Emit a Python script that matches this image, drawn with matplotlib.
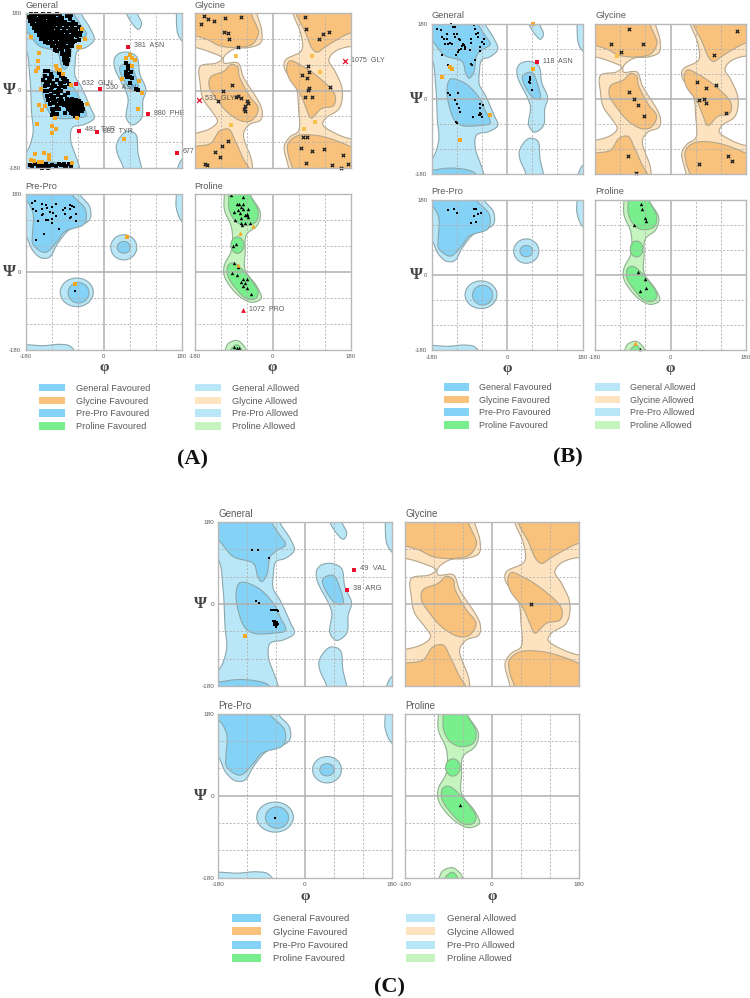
import numpy as np
import matplotlib
matplotlib.use("Agg")
import matplotlib.pyplot as plt
from matplotlib.patches import Polygon, Patch

plt.rcParams["axes.unicode_minus"] = False

W, H = 750, 998
SANS = "Liberation Sans"
SERIF = "Liberation Serif"

# ---------- region outlines in (phi, psi) degrees ----------
GEN_ALLOWED_MAIN = [(-200,200),(-52,200),(-52,180),(-31,144),(-22,118),(-41,100),(-60,93),(-66,60),(-66,34),(-52,9),(-31,-39),(-22,-64),(-45,-79),(-72,-86),(-76,-115),(-62,-159),(-55,-182),(-54,-200),(-200,-200),(-200,-150),(-180,-145),(-163,-101),(-166,-50),(-170,31),(-180,97),(-200,110)]
GEN_ALLOWED_LH = [(56,89),(76,78),(83,38),(97,2),(90,-24),(87,-64),(66,-80),(52,-64),(56,-20),(49,2),(25,53),(25,75),(35,86)]
GEN_ALLOWED_TOP = [(50,200),(52,180),(66,155),(80,142),(87,155),(77,180),(78,200)]
GEN_ALLOWED_BOT = [(30,-123),(52,-95),(73,-101),(79,-145),(87,-180),(90,-200),(44,-200),(45,-180),(31,-145)]
GEN_ALLOWED_R1 = [(167,200),(167,180),(170,133),(180,115),(200,100),(200,200)]
GEN_ALLOWED_R2 = [(168,-200),(170,-180),(180,-160),(200,-150),(200,-200)]
GEN_FAV_TOP = [(-200,200),(-69,200),(-69,180),(-52,151),(-40,130),(-57,118),(-72,104),(-79,64),(-90,49),(-98,60),(-107,89),(-149,104),(-180,140),(-200,150)]
GEN_FAV_MID = [(-135,47),(-100,37),(-66,2),(-52,-28),(-40,-58),(-66,-64),(-107,-64),(-124,-53),(-138,-17),(-143,23)]
GEN_FAV_BOT = [(-200,-200),(-200,-175),(-170,-170),(-142,-166),(-100,-169),(-76,-178),(-66,-200)]
GEN_FAV_LH = [(38,56),(59,63),(73,34),(79,0),(63,2),(38,42)]

GLY_WHITE_LEFT = [(-200,100),(-180,100),(-143,89),(-116,75),(-129,64),(-167,56),(-167,16),(-160,-20),(-139,-50),(-127,-72),(-143,-88),(-177,-99),(-200,-101)]
GLY_WHITE_MID = [(-36,200),(-36,180),(-25,140),(-27,111),(-53,100),(-87,97),(-112,78),(-112,64),(-80,64),(-67,31),(-25,-42),(-27,-68),(-53,-79),(-67,-101),(-49,-159),(-46,-180),(-46,-200),(37,-200),(37,-180),(27,-130),(40,-108),(60,-94),(60,-42),(54,9),(27,53),(30,71),(67,93),(65,133),(47,180),(47,200)]
GLY_WHITE_RIGHT = [(200,97),(148,93),(130,71),(144,45),(161,2),(154,-42),(123,-64),(116,-79),(148,-101),(180,-112),(200,-112)]
GLY_FAV_TL = [(-200,200),(-49,200),(-49,180),(-36,148),(-32,133),(-46,108),(-80,100),(-122,104),(-150,118),(-180,127),(-200,127)]
GLY_FAV_TR = [(54,200),(200,200),(200,130),(180,133),(144,115),(120,100),(103,89),(92,97),(75,137),(54,180)]
GLY_FAV_ML = [(-94,61),(-80,53),(-77,34),(-53,-13),(-33,-42),(-46,-68),(-67,-72),(-101,-53),(-129,-20),(-146,9),(-143,31),(-112,45)]
GLY_FAV_MR = [(40,69),(65,59),(106,31),(144,-10),(141,-35),(113,-42),(89,-64),(78,-42),(65,-10),(37,31),(33,56)]
GLY_FAV_BL = [(-200,-135),(-180,-130),(-143,-123),(-122,-94),(-101,-90),(-87,-115),(-67,-159),(-54,-182),(-52,-200),(-200,-200)]
GLY_FAV_BR = [(36,-123),(58,-105),(106,-105),(154,-119),(180,-130),(200,-135),(200,-200),(47,-200),(46,-180),(37,-152)]

PP_ALLOWED_MAIN = [(-200,200),(-55,200),(-55,180),(-32,150),(-33,120),(-80,97),(-107,64),(-125,34),(-145,33),(-165,52),(-180,85),(-200,100)]
PP_FAV_MAIN = [(-200,200),(-73,200),(-73,180),(-42,144),(-45,111),(-90,93),(-107,71),(-135,45),(-163,64),(-164,86),(-163,137),(-180,166),(-200,170)]
PP_ALLOWED_BOT = [(-200,-200),(-200,-170),(-180,-168),(-140,-170),(-100,-167),(-76,-172),(-62,-200)]
PP_ALLOWED_R1 = [(167,200),(167,180),(167,147),(180,116),(200,105),(200,200)]
PP_ELLIPSES_ALLOWED = [(46,57,30,29),(-62,-47,38,33)]
PP_ELLIPSES_FAV = [(46,57,15,13.5),(-58,-48,24,23.5)]

PRO_ALLOWED_MAIN = [(-111,200),(-111,180),(-111,144),(-94,100),(-95,49),(-111,16),(-111,-10),(-80,-53),(-49,-70),(-26,-61),(-35,-35),(-63,5),(-63,45),(-60,86),(-35,108),(-28,137),(-52,180),(-52,200)]
PRO_FAV_TOP = [(-101,200),(-101,180),(-100,144),(-87,119),(-66,108),(-39,115),(-33,140),(-52,180),(-52,200)]
PRO_FAV_LOW = [(-102,16),(-91,21),(-73,9),(-33,-46),(-39,-61),(-59,-62),(-87,-35),(-104,-6)]
PRO_ALLOWED_BOT = [(-111,-200),(-109,-180),(-102,-165),(-82,-158),(-67,-169),(-61,-180),(-59,-200)]
PRO_FAV_BOT = [(-99,-200),(-97,-180),(-82,-168),(-71,-180),(-69,-200)]
PRO_ELLIPSE_FAV = (-81, 62, 15, 19)

# ---------- observations, panel A ----------
A_GEN_BLACK = [
(-168,177),(-161,175),(-155,178),(-147,176),(-140,178),(-133,175),(-126,177),(-117,176),(-108,178),(-100,175),
(-171,170),(-165,168),(-158,171),(-151,167),(-144,170),(-137,168),(-130,171),(-122,168),(-114,170),(-105,167),(-97,169),(-84,172),(-76,176),
(-169,162),(-162,160),(-156,164),(-149,160),(-141,163),(-135,160),(-127,164),(-120,160),(-112,163),(-103,160),(-95,162),(-88,160),(-78,165),(-70,160),
(-165,154),(-159,151),(-152,155),(-145,152),(-139,156),(-132,152),(-125,155),(-118,151),(-110,155),(-102,152),(-94,155),(-86,151),(-80,154),(-72,152),(-64,155),
(-160,145),(-153,147),(-147,143),(-140,147),(-134,144),(-128,147),(-121,143),(-115,147),(-108,144),(-100,147),(-92,144),(-85,147),(-78,143),(-72,146),(-63,144),(-56,147),
(-155,138),(-149,135),(-143,139),(-137,136),(-131,139),(-125,135),(-119,139),(-113,136),(-106,139),(-99,135),(-92,138),(-85,135),(-78,138),(-71,135),(-64,137),(-57,134),(-52,138),
(-150,128),(-144,130),(-138,127),(-132,130),(-126,127),(-120,130),(-114,127),(-108,130),(-102,127),(-96,130),(-90,127),(-84,130),(-77,127),(-70,129),(-62,126),(-55,128),
(-145,120),(-139,122),(-133,119),(-127,122),(-121,119),(-115,122),(-109,119),(-103,122),(-97,119),(-91,122),(-85,119),(-80,118),(-73,120),(-66,116),(-58,118),
(-134,112),(-128,110),(-122,113),(-116,110),(-110,113),(-104,110),(-98,113),(-92,110),(-86,112),(-78,110),(-71,112),
(-118,104),(-112,102),(-106,104),(-100,102),(-94,104),(-88,100),(-82,101),(-74,103),
(-96,84),(-91,80),(-87,85),(-84,78),(-80,82),(-92,72),(-88,70),(-83,72),(-89,64),(-85,61),(-79,92),(-84,94),
(-113,95),(-108,92),(-101,96),(-96,93)]
A_GEN_BLACK_MID = [
(-135,45),(-128,46),(-122,38),(-134,34),(-126,30),(-118,32),(-104,40),(-99,34),(-94,30),(-88,27),(-84,22),(-92,20),(-80,16),
(-139,24),(-132,20),(-124,22),(-116,18),(-108,24),(-100,18),(-136,10),(-128,12),(-120,8),(-112,10),(-104,6),(-98,10),(-90,8),
(-136,0),(-130,-2),(-122,2),(-114,-4),(-106,0),(-98,-2),(-130,-12),(-122,-10),(-114,-14),(-106,-10),(-98,-14),(-90,-10),(-82,-6),
(-128,-22),(-120,-20),(-112,-24),(-104,-22),(-96,-24),(-124,-32),(-116,-30),(-108,-34),(-100,-32),(-92,-34),(-118,-42),(-110,-44),(-102,-42),
(-116,-52),(-108,-54),(-120,-58),(-112,-62),
(-84,-20),(-80,-24),(-76,-22),(-72,-20),(-68,-24),(-64,-22),(-60,-26),(-56,-24),(-52,-28),
(-86,-28),(-82,-30),(-78,-28),(-74,-30),(-70,-28),(-66,-30),(-62,-28),(-58,-32),(-54,-32),(-50,-34),
(-84,-36),(-80,-38),(-76,-36),(-72,-38),(-68,-36),(-64,-38),(-60,-36),(-56,-40),(-52,-40),(-48,-42),
(-82,-44),(-78,-46),(-74,-44),(-70,-46),(-66,-44),(-62,-46),(-58,-44),(-54,-48),(-50,-48),
(-76,-52),(-70,-54),(-64,-52),(-60,-56),(-66,-60),(-88,-52)]
A_GEN_BLACK_BOT = [(-170,-172),(-164,-175),(-158,-171),(-152,-176),(-146,-172),(-138,-176),(-132,-171),(-125,-175),(-118,-172),(-110,-176),(-104,-171),(-98,-174),(-92,-170),(-86,-175),(-80,-171),(-75,-176),(-142,-179),(-128,-179),(-90,-178)]
A_GEN_BLACK_LH = [(51,63),(56,56),(55,50),(52,44),(56,39),(60,32),(54,32),(64,29),(60,17),(74,3),(78,2),(59,58),(52,36),(62,44)]
A_GEN_ORANGE = [(-49,144),(-43,119),(-55,100),(-59,100),(-168,125),(-148,88),(-151,69),(-151,52),(-155,46),(-109,57),(-107,49),(-101,48),(-93,39),(-76,12),(-145,4),(-148,-33),(-142,-45),(-135,-35),(-153,-77),(-120,-82),(-120,-99),(-109,-90),(-38,-31),(-61,-64),(-112,-64),(-158,-147),(-138,-145),(-125,-149),(-125,-160),(-87,-157),(-168,-162),(-160,-163),(-150,-165),(-143,-166),(-72,-168),(60,83),(66,75),(72,71),(51,75),(64,56),(82,21),(43,27),(87,-6),(79,-42),(46,-112)]
A_GEN_RED = [(56,102,"381  ASN"),(-64,15,"632  GLN"),(-8,4,"530  ASN"),(101,-55,"880  PHE"),(-56,-93,"481  TYR"),(-15,-97,"882  TYR"),(168,-144,"677")]
A_GLY_BLACK = [(-159,173),(-150,167),(-136,162),(-165,154),(-109,169),(-73,171),(-112,137),(-102,133),(-101,120),(-80,100),(-93,12),(-115,-2),(-125,-25),(-80,-13),(-84,-15),(-72,-18),(-59,-24),(-56,-29),(-63,-37),(-65,-43),(-63,-47),(-103,-117),(-117,-128),(-132,-143),(-121,-155),(-155,-170),(-152,-174),(76,170),(77,142),(131,137),(117,131),(108,120),(67,36),(85,44),(82,56),(79,29),(85,5),(82,2),(132,8),(76,-15),(92,-15),(71,-109),(79,-108),(65,-133),(92,-140),(118,-137),(77,-168),(138,-172),(163,-149),(175,-171),(157,-179)]
A_GLY_ORANGE = [(-84,80),(92,81),(-96,-79),(98,-73),(73,-89),(109,42)]
A_GLY_RED = [(168,68,"1075  GLY"),(-170,-21,"531  GLY")]
A_PP_BLACK = [(-166,160),(-158,165),(-142,158),(-162,145),(-156,141),(-141,145),(-130,147),(-120,149),(-109,158),(-132,155),(-124,138),(-116,136),(-139,133),(-143,131),(-109,129),(-152,117),(-132,120),(-128,120),(-119,122),(-119,114),(-93,143),(-89,147),(-78,155),(-72,152),(-69,149),(-78,145),(-89,135),(-64,135),(-78,124),(-76,126),(-64,117),(-104,99),(-138,87),(-156,74),(-66,-44),(-69,-28)]
A_PP_ORANGE = [(54,80),(-66,-28)]
A_PRO_BLACK = [(-96,178),(-67,174),(-77,156),(-67,157),(-73,151),(-79,143),(-75,137),(-67,145),(-56,145),(-60,135),(-63,131),(-58,131),(-56,127),(-73,113),(-71,108),(-52,114),(-90,139),(-86,121),(-63,114),(-73,125),(-81,156),(-92,61),(-84,65),(-90,21),(-79,11),(-81,-7),(-67,-15),(-58,-17),(-73,-22),(-63,-25),(-69,-32),(-58,-38),(-50,-51),(-94,-3),(-88,-174),(-82,-175),(-78,-176)]
A_PRO_ORANGE = [(-75,91),(-46,106),(-79,16)]
A_PRO_RED = [(-67,-88,"1072  PRO")]

# ---------- panel B ----------
B_GEN_BLACK = [(-166,166),(-157,164),(-133,180),(-129,172),(-143,156),(-151,142),(-155,148),(-143,144),(-136,134),(-131,132),(-140,130),(-147,132),(-123,172),(-119,156),(-115,144),(-123,148),(-127,156),(-111,140),(-107,127),(-103,128),(-110,120),(-115,116),(-117,112),(-121,104),(-155,104),(-101,120),(-87,144),(-86,134),(-89,116),(-78,176),(-76,168),(-70,158),(-68,148),(-73,154),(-64,124),(-60,136),(-56,142),(-54,132),(-64,115),(-76,92),(-85,82),(-83,80),(-105,130),(-100,124),(-140,81),(-140,14),(-136,9),(-125,-3),(-119,-13),(-115,-21),(-117,14),(-113,-31),(-65,-13),(-57,-15),(-65,-23),(-64,-33),(-64,-39),(-60,-43),(-67,-39),(-61,-37),(-80,-43),(-121,-56),(-119,-57),(55,51),(56,44),(53,41),(56,38),(60,22),(54,47)]
B_GEN_ORANGE = [(-136,75),(-130,70),(-155,53),(-40,-40),(-113,-99),(63,178),(63,70)]
B_GEN_RED = [(72,87,"118  ASN")]
B_GLY_BLACK = [(-99,168),(-143,131),(-65,132),(-117,111),(-100,17),(-86,-1),(-78,-16),(-62,-41),(-101,-136),(-82,-177),(159,162),(104,104),(62,41),(84,26),(109,33),(67,-4),(81,0),(85,-9),(132,-33),(138,-136),(147,-150),(67,-157)]
B_GLY_ORANGE = [(-128,102)]
B_PP_BLACK = [(-141,154),(-127,158),(-119,147),(-78,157),(-74,157),(-79,140),(-68,145),(-62,148),(-86,125),(-75,127)]
B_PRO_BLACK = [(-70,170),(-68,158),(-60,136),(-59,129),(-88,119),(-77,8),(-61,-9),(-59,-32),(-72,-39),(-73,-176)]
B_PRO_ORANGE = [(-84,-163)]

# ---------- panel C ----------
C_GEN_BLACK = [(-109,118),(-97,118),(-74,100),(-102,7),(-95,2),(-70,-14),(-66,-14),(-63,-14),(-60,-14),(-57,-14),(-55,-15),(-66,-38),(-62,-37),(-58,-39),(-65,-42),(-60,-42),(-56,-43),(-64,-46),(-60,-47),(-57,-46),(-61,-50)]
C_GEN_ORANGE = [(-124,-70)]
C_GEN_RED = [(102,75,"49  VAL"),(88,31,"38  ARG")]
C_GLY_BLACK = [(81,1)]
C_PP_BLACK = [(-62,-50)]
C_PRO_BLACK = [(-66,-20)]

# ---------- labels and colours ----------
PANEL_NAMES = ["General", "Glycine", "Pre-Pro", "Proline"]
TICK_VALUES = [-180, 0, 180]
GRID_DASHED = [-120, -60, 60, 120]
LEGEND_LEFT = ["General Favoured", "Glycine Favoured", "Pre-Pro Favoured", "Proline Favoured"]
LEGEND_RIGHT = ["General Allowed", "Glycine Allowed", "Pre-Pro Allowed", "Proline Allowed"]
BLUE_FAV, BLUE_ALL = "#84d3f6", "#bae7f7"
ORG_FAV, ORG_ALL = "#f8c27c", "#fde3c0"
GRN_FAV, GRN_ALL = "#79ee8d", "#c6f4bf"
COLORS_LEFT = [BLUE_FAV, ORG_FAV, BLUE_FAV, GRN_FAV]
COLORS_RIGHT = [BLUE_ALL, ORG_ALL, BLUE_ALL, GRN_ALL]

TXT = "#5a5a5a"
EDGE = "#8aa6ad"
EDGE_G = "#b5a58a"
EDGE_P = "#8fb092"
GRID = "#b0b0b0"
ORANGE = "#f5a623"
RED = "#e8102a"

fig = plt.figure(figsize=(W/100, H/100), dpi=100, facecolor="white")


def smooth(pts, n=10):
    """Closed centripetal Catmull-Rom curve through the outline's vertices."""
    P = np.asarray(pts, float)
    N = len(P)
    out = []
    for i in range(N):
        p0, p1, p2, p3 = P[i-1], P[i], P[(i+1) % N], P[(i+2) % N]
        t0 = 0.0
        t1 = t0 + np.linalg.norm(p1-p0)**0.5
        t2 = t1 + np.linalg.norm(p2-p1)**0.5
        t3 = t2 + np.linalg.norm(p3-p2)**0.5
        t = np.linspace(t1, t2, n, endpoint=False)[:, None]
        a1 = (t1-t)/(t1-t0)*p0 + (t-t0)/(t1-t0)*p1
        a2 = (t2-t)/(t2-t1)*p1 + (t-t1)/(t2-t1)*p2
        a3 = (t3-t)/(t3-t2)*p2 + (t-t2)/(t3-t2)*p3
        b1 = (t2-t)/(t2-t0)*a1 + (t-t0)/(t2-t0)*a2
        b2 = (t3-t)/(t3-t1)*a2 + (t-t1)/(t3-t1)*a3
        out.append((t2-t)/(t2-t1)*b1 + (t-t1)/(t2-t1)*b2)
    return np.vstack(out)


def ellipse(e):
    t = np.linspace(0, 2*np.pi, 80)
    return np.column_stack([e[0] + e[2]*np.cos(t), e[1] + e[3]*np.sin(t)])


def fill(ax, pts, fc, ec, z, raw=False):
    xy = pts if raw else smooth(pts)
    ax.add_patch(Polygon(xy, closed=True, fc=fc, ec=ec, lw=0.8, zorder=z))


def make_axes(box, name, xt, yt, psi, phi, fs):
    x0, y0, x1, y1 = box
    ax = fig.add_axes([x0/W, 1-y1/H, (x1-x0)/W, (y1-y0)/H])
    ax.set_xlim(-180, 180)
    ax.set_ylim(-180, 180)
    for v in GRID_DASHED:
        ax.axvline(v, color=GRID, lw=0.6, ls=(0, (2.5, 2)), zorder=3)
        ax.axhline(v, color=GRID, lw=0.6, ls=(0, (2.5, 2)), zorder=3)
    ax.axvline(0, color=GRID, lw=1.1, zorder=3)
    ax.axhline(0, color=GRID, lw=1.1, zorder=3)
    for s in ax.spines.values():
        s.set_color("#b8b8b8")
        s.set_linewidth(1.0)
        s.set_zorder(6)
    ax.set_xticks(TICK_VALUES if xt else [])
    ax.set_yticks(TICK_VALUES if yt else [])
    ax.tick_params(length=0, labelsize=fs-2.2, labelcolor=TXT, pad=3)
    for lab in ax.get_xticklabels() + ax.get_yticklabels():
        lab.set_family(SANS)
    fig.text(x0/W, 1-(y0-3)/H, name, fontsize=fs+0.2, color=TXT, family=SANS, ha="left", va="bottom")
    if psi:
        ax.annotate("Ψ", xy=(0, 0), xycoords=("axes fraction", "data"), xytext=(-psi, 0), textcoords="offset pixels",
                    fontsize=12, fontweight="bold", color="#444444", family=SERIF, ha="center", va="center", annotation_clip=False)
    if phi:
        ax.annotate("φ", xy=(0, 0), xycoords=("data", "axes fraction"), xytext=(0, -phi), textcoords="offset pixels",
                    fontsize=11, fontweight="bold", color="#444444", family=SERIF, ha="center", va="center", annotation_clip=False)
    return ax


def general(ax):
    for r in (GEN_ALLOWED_MAIN, GEN_ALLOWED_LH, GEN_ALLOWED_TOP, GEN_ALLOWED_BOT, GEN_ALLOWED_R1, GEN_ALLOWED_R2):
        fill(ax, r, BLUE_ALL, EDGE, 1)
    for r in (GEN_FAV_TOP, GEN_FAV_MID, GEN_FAV_BOT, GEN_FAV_LH):
        fill(ax, r, BLUE_FAV, EDGE, 2)


def glycine(ax):
    ax.set_facecolor(ORG_ALL)
    for r in (GLY_WHITE_LEFT, GLY_WHITE_MID, GLY_WHITE_RIGHT):
        fill(ax, r, "white", EDGE_G, 1)
    for r in (GLY_FAV_TL, GLY_FAV_TR, GLY_FAV_ML, GLY_FAV_MR, GLY_FAV_BL, GLY_FAV_BR):
        fill(ax, r, ORG_FAV, EDGE_G, 2)


def prepro(ax):
    for r in (PP_ALLOWED_MAIN, PP_ALLOWED_BOT, PP_ALLOWED_R1):
        fill(ax, r, BLUE_ALL, EDGE, 1)
    fill(ax, PP_FAV_MAIN, BLUE_FAV, EDGE, 2)
    for e in PP_ELLIPSES_ALLOWED:
        fill(ax, ellipse(e), BLUE_ALL, EDGE, 1, raw=True)
    for e in PP_ELLIPSES_FAV:
        fill(ax, ellipse(e), BLUE_FAV, EDGE, 2, raw=True)


def proline(ax):
    for r in (PRO_ALLOWED_MAIN, PRO_ALLOWED_BOT):
        fill(ax, r, GRN_ALL, EDGE_P, 1)
    for r in (PRO_FAV_TOP, PRO_FAV_LOW, PRO_FAV_BOT):
        fill(ax, r, GRN_FAV, EDGE_P, 2)
    fill(ax, ellipse(PRO_ELLIPSE_FAV), GRN_FAV, EDGE_P, 2, raw=True)


def pts(ax, data, marker, color, s, lw=0.0):
    if not data:
        return
    a = np.array([d[:2] for d in data], float)
    ax.scatter(a[:, 0], a[:, 1], marker=marker, c=color, s=s, linewidths=lw, zorder=5, clip_on=False)


def reds(ax, data, marker, fs):
    for phi, psi, lab in data:
        ax.scatter([phi], [psi], marker=marker, c=RED, s=12, linewidths=0.9 if marker == "x" else 0, zorder=5, clip_on=False)
        ax.annotate(lab, xy=(phi, psi), xytext=(6, 1), textcoords="offset pixels", fontsize=fs, color=TXT,
                    family=SANS, ha="left", va="center", zorder=4, annotation_clip=False)


def legend(x_sw, sw_w, top, step, fs, labels, colors, text_pad):
    handles = [Patch(fc=c, ec="none") for c in colors]
    leg = fig.legend(handles, labels, loc="upper left", bbox_to_anchor=(x_sw/W, 1-top/H), frameon=False,
                     borderpad=0, borderaxespad=0, handlelength=sw_w*0.72/fs, handleheight=0.9,
                     handletextpad=text_pad*0.72/fs, labelspacing=(step*0.72-fs)/fs,
                     prop={"family": SANS, "size": fs})
    for t in leg.get_texts():
        t.set_color(TXT)


def panel(boxes, fs, psi_off, phi_off, data):
    a = make_axes(boxes[0], PANEL_NAMES[0], False, True, psi_off, 0, fs); general(a)
    b = make_axes(boxes[1], PANEL_NAMES[1], False, False, 0, 0, fs); glycine(b)
    c = make_axes(boxes[2], PANEL_NAMES[2], True, True, psi_off, phi_off, fs); prepro(c)
    d = make_axes(boxes[3], PANEL_NAMES[3], True, False, 0, phi_off, fs); proline(d)
    s = data.get("s", 4.5)
    for arr in data["gen_black"]:
        pts(a, arr, "s", "#000000", s)
    pts(a, data.get("gen_orange"), "s", ORANGE, 6)
    reds(a, data.get("gen_red", []), "s", fs-1.4)
    pts(b, data.get("gly_black"), "x", "#1a1a1a", 6, 0.9)
    pts(b, data.get("gly_black"), "s", "#333333", 1.5)
    pts(b, data.get("gly_orange"), "s", "#f9c24a", 5)
    reds(b, data.get("gly_red", []), "x", fs-1.4)
    pts(c, data.get("pp_black"), "s", "#000000", 3.5)
    pts(c, data.get("pp_orange"), "s", ORANGE, 6)
    pts(d, data.get("pro_black"), "^", "#000000", 6)
    pts(d, data.get("pro_orange"), "^", ORANGE, 10)
    reds(d, data.get("pro_red", []), "^", fs-1.4)


panel([(25.5, 13, 182, 168), (194.5, 13, 350.5, 168), (25.5, 194, 182, 350), (194.5, 194, 350.5, 350)], 6.5, 16.5, 18, {
    "s": 5.5,
    "gen_black": [A_GEN_BLACK, A_GEN_BLACK_MID, A_GEN_BLACK_BOT, A_GEN_BLACK_LH],
    "gen_orange": A_GEN_ORANGE, "gen_red": A_GEN_RED,
    "gly_black": A_GLY_BLACK, "gly_orange": A_GLY_ORANGE, "gly_red": A_GLY_RED,
    "pp_black": A_PP_BLACK, "pp_orange": A_PP_ORANGE,
    "pro_black": A_PRO_BLACK, "pro_orange": A_PRO_ORANGE, "pro_red": A_PRO_RED})
panel([(431.5, 23.5, 582.5, 174), (595, 23.5, 746, 174), (431.5, 199.5, 582.5, 350.5), (595, 199.5, 746, 350.5)], 6.5, 15, 18, {
    "gen_black": [B_GEN_BLACK], "gen_orange": B_GEN_ORANGE, "gen_red": B_GEN_RED,
    "gly_black": B_GLY_BLACK, "gly_orange": B_GLY_ORANGE,
    "pp_black": B_PP_BLACK, "pro_black": B_PRO_BLACK, "pro_orange": B_PRO_ORANGE})
panel([(218.3, 522, 391.5, 686), (405, 522, 579, 686), (218.3, 713.7, 391.5, 877.7), (405, 713.7, 579, 877.7)], 6.8, 18, 19, {
    "gen_black": [C_GEN_BLACK], "gen_orange": C_GEN_ORANGE, "gen_red": C_GEN_RED,
    "gly_black": C_GLY_BLACK, "pp_black": C_PP_BLACK, "pro_black": C_PRO_BLACK})

legend(38.7, 26, 383.7, 13, 6.6, LEGEND_LEFT, COLORS_LEFT, 11)
legend(194.5, 26, 383.7, 13, 6.6, LEGEND_RIGHT, COLORS_RIGHT, 11)
legend(443.7, 25, 383, 12.7, 6.5, LEGEND_LEFT, COLORS_LEFT, 10)
legend(595, 25, 383, 12.7, 6.5, LEGEND_RIGHT, COLORS_RIGHT, 10)
legend(232, 29, 914, 13.7, 6.8, LEGEND_LEFT, COLORS_LEFT, 12)
legend(405.7, 29, 914, 13.7, 6.8, LEGEND_RIGHT, COLORS_RIGHT, 12)

for x, y, s in [(192, 459, "(A)"), (568, 457, "(B)"), (389, 987, "(C)")]:
    fig.text(x/W, 1-y/H, s, fontsize=16, fontweight="bold", family=SERIF, color="#111111", ha="center", va="center")

fig.savefig("out.png", dpi=100, facecolor="white")
